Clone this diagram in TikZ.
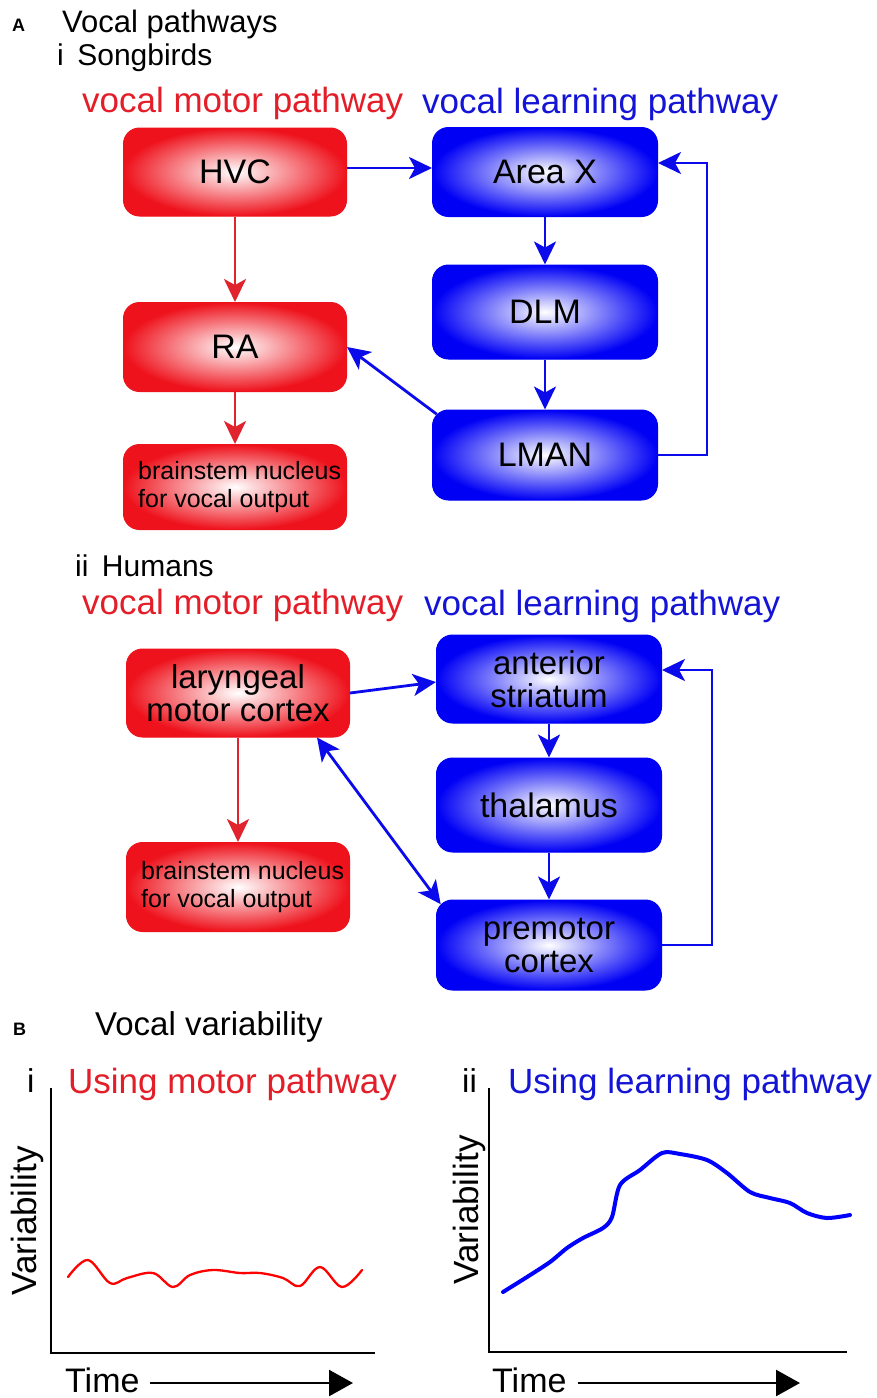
\documentclass[tikz,border=0pt]{standalone}
\usepackage{fontspec}
\setmainfont{Liberation Sans}
\usetikzlibrary{arrows.meta,calc}
\definecolor{mred}{RGB}{238,18,28}
\definecolor{tred}{RGB}{228,30,40}
\definecolor{tblue}{RGB}{20,20,215}
\definecolor{mblue}{RGB}{0,0,245}
\definecolor{ared}{RGB}{225,35,45}
\definecolor{ablue}{RGB}{10,10,235}
\begin{document}
\begin{tikzpicture}[x=1pt,y=-1pt,
  box/.style={rounded corners=16pt, minimum width=223pt, minimum height=88pt, inner sep=0pt, align=center, font=\fontsize{34}{30}\selectfont, text=black},
  twoline/.style={font=\fontsize{33}{33}\selectfont},
  redbox/.style={box, draw=mred, line width=1pt, inner color=white, outer color=mred},
  bluebox/.style={box, draw=mblue, line width=1pt, inner color=white, outer color=mblue},
  txt/.style={anchor=base west, inner sep=0pt},
  redarr/.style={draw=ared, line width=2.8pt, -{Stealth[length=23pt,width=22pt,inset=6pt]}},
  bluearr/.style={draw=ablue, line width=2.8pt, -{Stealth[length=23pt,width=22pt,inset=6pt]}},
  bluedbl/.style={draw=ablue, line width=2.8pt, {Stealth[length=23pt,width=22pt,inset=6pt]}-{Stealth[length=23pt,width=22pt,inset=6pt]}},
  axisline/.style={draw=black, line width=2pt},
  timearr/.style={draw=black, line width=2.5pt, -{Triangle[length=24pt,width=26pt]}}
]
\useasboundingbox[fill=white] (0,0) rectangle (876,1398);

% ---------- Section A headings ----------
\node[txt, font=\bfseries\fontsize{18}{20}\selectfont] (lblA) at (12,31) {A};
\node[txt, font=\fontsize{31}{34}\selectfont] (titleA) at (62,32) {Vocal pathways};
\node[txt, font=\fontsize{30}{33}\selectfont] (songb) at (57,65) {i\hspace{0.45em}Songbirds};
\node[txt, text=tred, font=\fontsize{35}{38}\selectfont] (hm1) at (82,112) {vocal motor pathway};
\node[txt, text=tblue, font=\fontsize{35}{38}\selectfont] (hl1) at (422,113) {vocal learning pathway};

% ---------- Songbird boxes ----------
\node[redbox] (HVC) at (235,172) {HVC};
\node[redbox, minimum height=89pt] (RA) at (235,347) {RA};
\node[redbox, minimum height=85pt] (bs1) at (235,487) {};
\node[txt, anchor=west, align=left, font=\fontsize{25}{28}\selectfont] (bs1t) at ($(bs1.west)+(15,0)$) {brainstem nucleus\\for vocal output};

\node[bluebox, minimum width=225pt, minimum height=89pt] (AX) at (545,172) {Area X};
\node[bluebox, minimum width=225pt, minimum height=94pt] (DLM) at (545,312) {DLM};
\node[bluebox, minimum width=225pt, minimum height=90pt] (LMAN) at (545,455) {LMAN};

\coordinate (lmanc) at ($(LMAN.north west)+(4.7,4.7)$);
\coordinate (fb1a) at ($(LMAN.east)+(49,0)$);
\coordinate (fb1b) at ($(AX.east)+(49,-9)$);

\draw[redarr] (HVC) -- (RA);
\draw[redarr] (RA) -- (bs1);
\draw[bluearr] ($(HVC.east)+(0,-4)$) -- ($(AX.west)+(0,-4)$);
\draw[bluearr] (AX) -- (DLM);
\draw[bluearr] (DLM) -- (LMAN);
\draw[bluearr] (lmanc) -- (RA.east);
\draw[bluearr] (LMAN.east) -- (fb1a) -- (fb1b) -- ($(AX.east)+(0,-9)$);

% ---------- Humans ----------
\node[txt, font=\fontsize{30}{33}\selectfont] (humans) at (75,576) {ii\hspace{0.45em}Humans};
\node[txt, text=tred, font=\fontsize{35}{38}\selectfont] (hm2) at (82,614) {vocal motor pathway};
\node[txt, text=tblue, font=\fontsize{35}{38}\selectfont] (hl2) at (424,615) {vocal learning pathway};

\node[redbox, twoline] (LMC) at (238,693) {laryngeal\\motor cortex};
\node[redbox, minimum height=89pt] (bs2) at (238,887) {};
\node[txt, anchor=west, align=left, font=\fontsize{25}{28}\selectfont] (bs2t) at ($(bs2.west)+(15,0)$) {brainstem nucleus\\for vocal output};

\node[bluebox, twoline, minimum width=225pt] (AS) at (549,679) {anterior\\striatum};
\node[bluebox, minimum width=225pt, minimum height=94pt] (TH) at (549,805) {thalamus};
\node[bluebox, twoline, minimum width=225pt, minimum height=90pt] (PM) at (549,945) {premotor\\cortex};

\coordinate (lmcb) at ($(LMC.south)+(79,0)$);
\coordinate (pmc) at ($(PM.north west)+(4.7,4.7)$);
\coordinate (fb2a) at ($(PM.east)+(50,0)$);
\coordinate (fb2b) at ($(AS.east)+(50,-9)$);

\draw[redarr] (LMC) -- (bs2);
\draw[bluearr] (LMC.east) -- ($(AS.west)+(0,3)$);
\draw[bluearr] (AS) -- (TH);
\draw[bluearr] (TH) -- (PM);
\draw[bluedbl] (lmcb) -- (pmc);
\draw[bluearr] (PM.east) -- (fb2a) -- (fb2b) -- ($(AS.east)+(0,-9)$);

% ---------- Section B ----------
\node[txt, font=\bfseries\fontsize{18}{20}\selectfont] (lblB) at (13,1035) {B};
\node[txt, font=\fontsize{33}{36}\selectfont] (titleB) at (95,1035) {Vocal variability};

% plot i
\node[txt, font=\fontsize{33}{36}\selectfont] (pi) at (27,1092) {i};
\node[txt, text=tred, font=\fontsize{35}{38}\selectfont] (ui) at (68,1093) {Using motor pathway};
\coordinate (o1) at (51,1353);
\coordinate (y1) at (51,1088);
\coordinate (x1) at (375,1353);
\draw[axisline] (y1) -- (o1) -- (x1);
\node[anchor=base, rotate=90, inner sep=0pt, font=\fontsize{35}{38}\selectfont] (v1) at (36,1221) {Variability};
\node[txt, font=\fontsize{34}{37}\selectfont] (t1) at (65,1392) {Time};
\coordinate (ta1) at (150,1383);
\coordinate (tb1) at (353,1383);
\draw[timearr] (ta1) -- (tb1);
\draw[draw=red, line width=2.3pt, line cap=round] plot[smooth, tension=0.6] coordinates {
 (68,1277) (88,1260) (110,1283) (127,1278) (153,1273) (173,1287) (190,1275) (213,1270)
 (240,1273) (260,1273) (283,1278) (300,1286) (320,1267) (342,1287) (362,1270)};

% plot ii
\node[txt, font=\fontsize{33}{36}\selectfont] (pii) at (462,1092) {ii};
\node[txt, text=tblue, font=\fontsize{35}{38}\selectfont] (uii) at (508,1093) {Using learning pathway};
\coordinate (o2) at (489,1352);
\coordinate (y2) at (489,1088);
\coordinate (x2) at (847,1352);
\draw[axisline] (y2) -- (o2) -- (x2);
\node[anchor=base, rotate=90, inner sep=0pt, font=\fontsize{35}{38}\selectfont] (v2) at (478,1210) {Variability};
\node[txt, font=\fontsize{34}{37}\selectfont] (t2) at (492,1392) {Time};
\coordinate (ta2) at (578,1383);
\coordinate (tb2) at (800,1383);
\draw[timearr] (ta2) -- (tb2);
\draw[draw=blue, line width=4pt, line cap=round] plot[smooth, tension=0.5] coordinates {
 (503,1292) (527,1277) (550,1262) (567,1248) (583,1238) (603,1228) (612,1217) (620,1185)
 (640,1170) (662,1153) (680,1154) (707,1160) (727,1173) (750,1192) (770,1198) (790,1203)
 (807,1213) (827,1218) (850,1215)};
\end{tikzpicture}
\end{document}
